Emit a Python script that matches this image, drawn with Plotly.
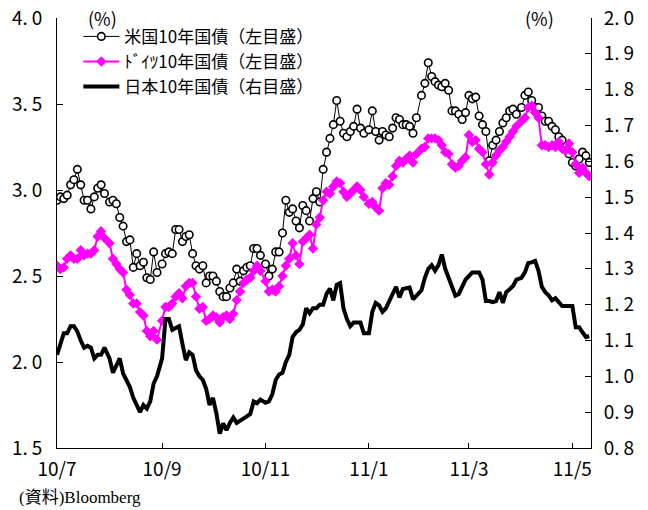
import plotly.graph_objects as go

# observation dates: every other day of each month
obs_days = ["01", "03", "05", "07", "09", "11", "13", "15", "17", "19",
            "21", "23", "25", "27", "29"]
obs_months = [("2010-07", 15), ("2010-08", 15), ("2010-09", 15), ("2010-10", 15),
              ("2010-11", 15), ("2010-12", 15), ("2011-01", 15), ("2011-02", 14),
              ("2011-03", 15), ("2011-04", 15), ("2011-05", 6)]
dates = [f"{m}-{d}" for m, n in obs_months for d in obs_days[:n]]

us_10y = [
    2.94, 2.96, 2.95, 2.97, 3.03, 3.06, 3.12, 3.03, 2.94, 2.94, 2.89, 2.96, 3.01, 3.03, 2.98,  # Jul
    2.93, 2.94, 2.92, 2.84, 2.79, 2.70, 2.71, 2.55, 2.63, 2.56, 2.58, 2.49, 2.48, 2.64, 2.52,  # Aug
    2.57, 2.63, 2.64, 2.63, 2.77, 2.77, 2.70, 2.73, 2.74, 2.63, 2.56, 2.54, 2.56, 2.46, 2.50,  # Sep
    2.50, 2.47, 2.41, 2.38, 2.38, 2.43, 2.46, 2.54, 2.47, 2.53, 2.55, 2.56, 2.66, 2.66, 2.62,  # Oct
    2.57, 2.50, 2.54, 2.64, 2.64, 2.75, 2.94, 2.87, 2.89, 2.82, 2.78, 2.91, 2.88, 2.82, 2.95,  # Nov
    2.99, 2.93, 3.12, 3.22, 3.30, 3.38, 3.52, 3.40, 3.33, 3.31, 3.34, 3.37, 3.47, 3.36, 3.33,  # Dec
    3.35, 3.46, 3.34, 3.29, 3.34, 3.32, 3.31, 3.36, 3.42, 3.41, 3.38, 3.38, 3.37, 3.33, 3.42,  # Jan
    3.55, 3.62, 3.74, 3.66, 3.63, 3.61, 3.60, 3.62, 3.58, 3.46, 3.46, 3.44, 3.41, 3.45,        # Feb
    3.55, 3.53, 3.54, 3.43, 3.38, 3.34, 3.17, 3.26, 3.29, 3.34, 3.39, 3.42, 3.46, 3.47, 3.44,  # Mar
    3.48, 3.55, 3.57, 3.52, 3.48, 3.48, 3.43, 3.40, 3.40, 3.37, 3.35, 3.31, 3.29, 3.25, 3.21,  # Apr
    3.16, 3.14, 3.18, 3.22, 3.20, 3.16,                                                        # May
]

de_10y = [
    2.56, 2.54, 2.55, 2.60, 2.62, 2.60, 2.60, 2.65, 2.62, 2.63, 2.63, 2.65, 2.73, 2.76, 2.72,  # Jul
    2.69, 2.60, 2.57, 2.54, 2.52, 2.42, 2.39, 2.34, 2.34, 2.29, 2.27, 2.18, 2.15, 2.18, 2.13,  # Aug
    2.24, 2.32, 2.32, 2.34, 2.38, 2.40, 2.37, 2.44, 2.46, 2.46, 2.38, 2.31, 2.32, 2.24, 2.25,  # Sep
    2.27, 2.26, 2.23, 2.26, 2.27, 2.25, 2.28, 2.36, 2.41, 2.46, 2.48, 2.49, 2.53, 2.56, 2.53,  # Oct
    2.47, 2.41, 2.42, 2.41, 2.44, 2.50, 2.56, 2.60, 2.69, 2.62, 2.57, 2.70, 2.72, 2.74, 2.66,  # Nov
    2.80, 2.84, 2.94, 2.99, 2.98, 3.02, 3.05, 3.04, 2.99, 2.96, 2.98, 3.00, 3.02, 3.00, 2.96,  # Dec
    2.92, 2.93, 2.90, 2.88, 3.01, 3.04, 3.03, 3.08, 3.14, 3.17, 3.16, 3.18, 3.20, 3.16, 3.21,  # Jan
    3.24, 3.25, 3.30, 3.30, 3.30, 3.29, 3.26, 3.22, 3.21, 3.15, 3.13, 3.14, 3.17, 3.19,        # Feb
    3.32, 3.28, 3.29, 3.24, 3.22, 3.15, 3.09, 3.16, 3.20, 3.23, 3.25, 3.28, 3.31, 3.34, 3.37,  # Mar
    3.40, 3.42, 3.48, 3.49, 3.45, 3.42, 3.26, 3.26, 3.25, 3.26, 3.25, 3.28, 3.24, 3.23, 3.27,  # Apr
    3.22, 3.15, 3.10, 3.13, 3.10, 3.08,                                                        # May
]

jp_10y = [
    1.06, 1.09, 1.12, 1.12, 1.14, 1.14, 1.125, 1.10, 1.08, 1.085, 1.08, 1.05, 1.06, 1.06, 1.08,     # Jul
    1.05, 1.01, 1.03, 1.05, 1.008, 0.99, 0.97, 0.94, 0.92, 0.90, 0.92, 0.91, 0.93, 0.98, 1.00,      # Aug
    1.05, 1.16, 1.16, 1.13, 1.135, 1.14, 1.09, 1.045, 1.067, 1.06, 1.017, 1.00, 0.99, 0.965, 0.92,  # Sep
    0.94, 0.897, 0.84, 0.869, 0.85, 0.87, 0.885, 0.87, 0.875, 0.88, 0.888, 0.895, 0.93, 0.925, 0.935,  # Oct
    0.926, 0.93, 0.95, 0.99, 1.005, 1.01, 1.04, 1.06, 1.11, 1.123, 1.13, 1.145, 1.19, 1.176, 1.19,  # Nov
    1.19, 1.20, 1.20, 1.23, 1.245, 1.212, 1.255, 1.26, 1.19, 1.16, 1.14, 1.15, 1.15, 1.15, 1.12,    # Dec
    1.12, 1.18, 1.205, 1.198, 1.18, 1.19, 1.21, 1.235, 1.25, 1.22, 1.244, 1.246, 1.248, 1.215, 1.224,  # Jan
    1.24, 1.275, 1.30, 1.31, 1.295, 1.31, 1.34, 1.30, 1.276, 1.25, 1.225, 1.23, 1.25, 1.27,          # Feb
    1.28, 1.29, 1.29, 1.29, 1.27, 1.21, 1.21, 1.207, 1.21, 1.235, 1.205, 1.235, 1.243, 1.252, 1.27,  # Mar
    1.275, 1.29, 1.316, 1.318, 1.322, 1.295, 1.25, 1.235, 1.226, 1.212, 1.218, 1.207, 1.196, 1.196, 1.196,  # Apr
    1.196, 1.137, 1.137, 1.123, 1.11, 1.112,                                                        # May
]

x_tickvals = ["2010-07-01", "2010-09-01", "2010-11-01", "2011-01-01", "2011-03-01", "2011-05-01"]
x_ticktext = ["10/7", "10/9", "10/11", "11/1", "11/3", "11/5"]
left_ticks = [1.5, 2.0, 2.5, 3.0, 3.5, 4.0]
right_ticks = [0.8, 0.9, 1.0, 1.1, 1.2, 1.3, 1.4, 1.5, 1.6, 1.7, 1.8, 1.9, 2.0]

names = ["米国10年国債（左目盛）", "ﾄﾞｲﾂ10年国債（左目盛）", "日本10年国債（右目盛）"]


def fmt(v):
    s = f"{v:.1f}"
    return s.replace(".", ".\u2009")


FONT = "Noto Sans CJK JP"

fig = go.Figure()
fig.add_trace(go.Scatter(
    x=dates, y=us_10y, name=names[0], mode="lines+markers",
    line=dict(color="black", width=1),
    marker=dict(symbol="circle", size=7.5, color="white", line=dict(color="black", width=1.6)),
))
fig.add_trace(go.Scatter(
    x=dates, y=de_10y, name=names[1], mode="lines+markers",
    line=dict(color="#FF00FF", width=2),
    marker=dict(symbol="diamond", size=8, color="#FF00FF"),
))
fig.add_trace(go.Scatter(
    x=dates, y=jp_10y, name=names[2], mode="lines", yaxis="y2",
    line=dict(color="black", width=4),
))

fig.update_layout(
    width=648, height=510,
    margin=dict(l=57, r=57, t=18, b=62),
    plot_bgcolor="white", paper_bgcolor="white",
    font=dict(family=FONT, size=19, color="black"),
    legend=dict(x=0.04, y=0.998, xanchor="left", yanchor="top",
                font=dict(size=17, family=FONT), bgcolor="rgba(0,0,0,0)",
                tracegroupgap=0, itemwidth=36),
    xaxis=dict(type="date", range=["2010-07-01", "2011-05-12"],
               tickvals=x_tickvals, ticktext=x_ticktext, automargin=False,
               ticks="inside", ticklen=5, tickcolor="black",
               showline=True, linecolor="black", linewidth=1,
               showgrid=False, zeroline=False, ticklabelstandoff=4),
    yaxis=dict(range=[1.5, 4.0], tickvals=left_ticks, automargin=False,
               ticktext=[fmt(v) for v in left_ticks],
               ticks="inside", ticklen=6, tickcolor="black",
               showline=True, linecolor="black", linewidth=1,
               showgrid=False, zeroline=False, ticklabelstandoff=10),
    yaxis2=dict(range=[0.8, 2.0], tickvals=right_ticks, automargin=False,
                ticktext=[fmt(v) for v in right_ticks],
                overlaying="y", side="right",
                ticks="inside", ticklen=6, tickcolor="black",
                showline=True, linecolor="black", linewidth=1,
                showgrid=False, zeroline=False, ticklabelstandoff=8),
    annotations=[
        dict(text="(%)", x=0.086, y=1.0, xref="paper", yref="paper",
             xanchor="center", yanchor="middle", showarrow=False, font=dict(size=18)),
        dict(text="(%)", x=0.904, y=1.0, xref="paper", yref="paper",
             xanchor="center", yanchor="middle", showarrow=False, font=dict(size=18)),
        dict(text="(資料)Bloomberg", x=-0.075, y=-0.116, xref="paper", yref="paper",
             xanchor="left", yanchor="middle", showarrow=False,
             font=dict(size=17, family="Liberation Serif, Noto Sans CJK JP")),
    ],
)

fig.write_html("out.html")
